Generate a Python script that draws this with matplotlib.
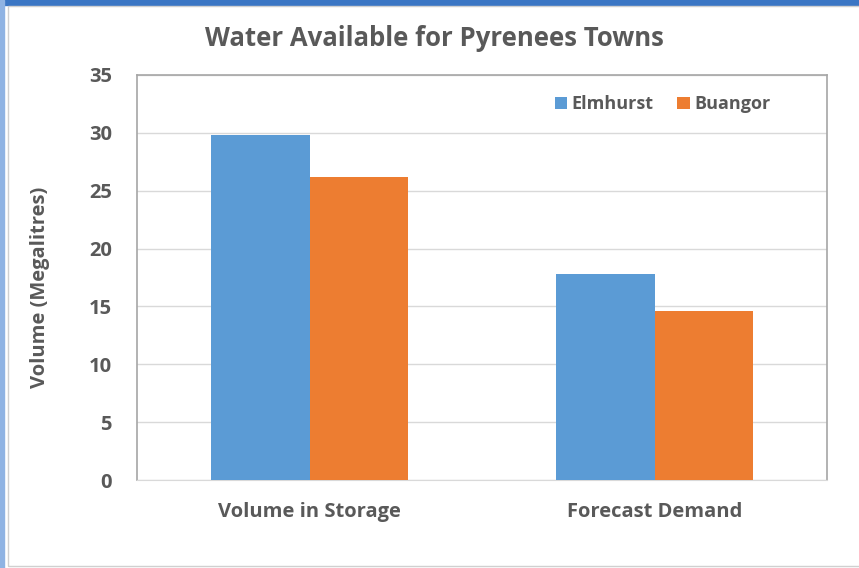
import matplotlib.pyplot as plt
import matplotlib.patches as patches
import numpy as np

# data
categories = ["Volume in Storage", "Forecast Demand"]
elmhurst = [29.8, 17.8]
buangor = [26.2, 14.6]
yticks = [0, 5, 10, 15, 20, 25, 30, 35]

blue = "#5B9BD5"
orange = "#ED7D31"
text_grey = "#595959"

plt.rcParams['font.family'] = ['Open Sans', 'DejaVu Sans']

fig = plt.figure(figsize=(8.59, 5.68), dpi=100)
fig.patch.set_facecolor("white")

# slide frame: blue band on top and left edge
fig.patches.append(patches.Rectangle((0, 1 - 5 / 568), 1, 5 / 568, transform=fig.transFigure,
                                     color="#3B76C4", zorder=0))
fig.patches.append(patches.Rectangle((0, 0), 4 / 859, 1, transform=fig.transFigure,
                                     color="#8FB3E3", zorder=0))
fig.patches.append(patches.Rectangle((8 / 859, 2 / 568), 1, 1 - 8 / 568, transform=fig.transFigure,
                                     fill=False, edgecolor="#D0D0D0", lw=1, zorder=0))

ax = fig.add_axes([137 / 859, 88 / 568, 690 / 859, 405 / 568])

x = np.arange(len(categories))
w = 0.285
ax.bar(x - w / 2, elmhurst, w, color=blue, label="Elmhurst", zorder=3)
ax.bar(x + w / 2, buangor, w, color=orange, label="Buangor", zorder=3)

ax.set_xlim(-0.5, 1.5)
ax.set_ylim(0, 35)
ax.set_yticks(yticks)
ax.set_xticks(x)
ax.set_xticklabels(categories)
ax.yaxis.grid(True, color="#D9D9D9", lw=1, zorder=0)
ax.tick_params(length=0, labelsize=14.5, labelcolor=text_grey)
ax.tick_params(axis="y", pad=18)
ax.tick_params(axis="x", pad=16)
for lab in ax.get_xticklabels() + ax.get_yticklabels():
    lab.set_fontweight("bold")

for s in ["left", "top", "right"]:
    ax.spines[s].set_color("#A6A6A6")
    ax.spines[s].set_linewidth(1.2)
ax.spines["bottom"].set_color("#D9D9D9")

ax.set_ylabel("Volume (Megalitres)", fontsize=14.5, fontweight="bold", color=text_grey)
ax.yaxis.set_label_coords(-0.126, 0.475)
fig.text(0.506, 0.933, "Water Available for Pyrenees Towns", ha="center", va="center",
         fontsize=18.5, fontweight="bold", color=text_grey)

ax.legend(loc="upper right", bbox_to_anchor=(0.942, 0.99), ncol=2, frameon=False,
          handlelength=0.7, handleheight=0.7, handletextpad=0.25,
          columnspacing=1.3, labelcolor=text_grey, prop={"weight": "bold", "size": 13})

fig.savefig("out.png", dpi=100)
